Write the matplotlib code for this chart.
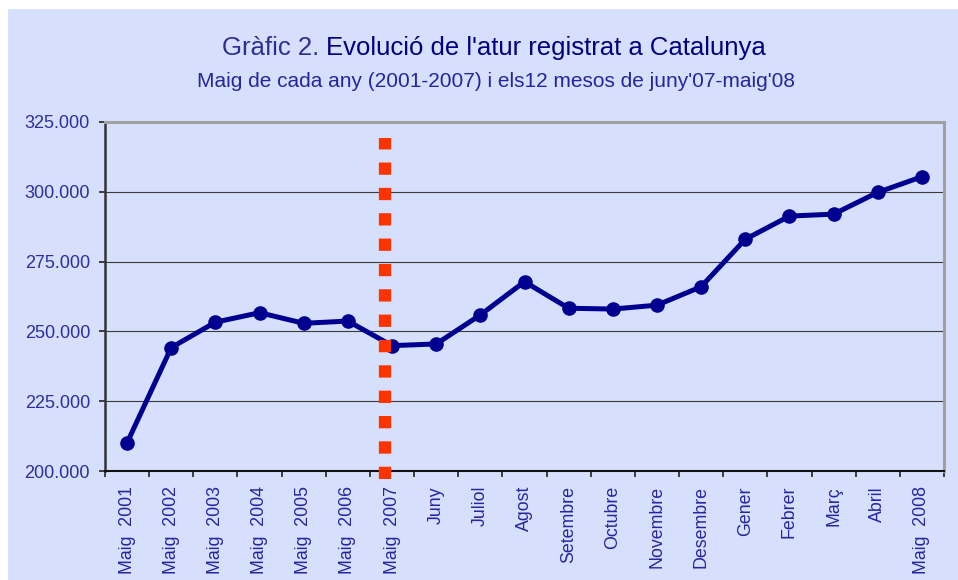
import matplotlib
matplotlib.use("Agg")
import matplotlib.pyplot as plt
from matplotlib.patches import Rectangle
from matplotlib.ticker import FuncFormatter, FixedLocator

categories = ["Maig  2001", "Maig  2002", "Maig  2003", "Maig  2004", "Maig  2005",
              "Maig  2006", "Maig  2007", "Juny", "Juliol", "Agost", "Setembre",
              "Octubre", "Novembre", "Desembre", "Gener", "Febrer", "Març", "Abril",
              "Maig  2008"]
values = [210100, 244200, 253300, 256700, 252900, 253700, 244900, 245500, 255900,
          267800, 258300, 258000, 259400, 266000, 283000, 291300, 292000, 299800, 305400]
yticks = [200000, 225000, 250000, 275000, 300000, 325000]
divider_x = 5.84
divider_y = [197100, 319300]

title_a = "Gràfic 2. "
title_b = "Evolució de l'atur registrat a Catalunya"
subtitle = "Maig de cada any (2001-2007) i els12 mesos de juny'07-maig'08"

plt.rcParams['font.family'] = ['Liberation Sans', 'DejaVu Sans']

W, H = 958, 580
bg = '#D6E0FC'
fig = plt.figure(figsize=(W / 100, H / 100), dpi=100, facecolor='white')
fig.patches.append(Rectangle((8 / W, 0), 1, 1 - 9 / H, transform=fig.transFigure,
                             facecolor=bg, edgecolor='none', zorder=-10))

ax = fig.add_axes([105 / W, 1 - 471 / H, (944 - 105) / W, (471 - 122) / H])
ax.set_facecolor(bg)

x = list(range(len(categories)))
ax.plot(x, values, color='#000090', lw=3.6, marker='o', markersize=10.5,
        markeredgewidth=0, zorder=4)
ax.plot([divider_x, divider_x], divider_y, color='#FF3300', lw=8.86,
        linestyle=(0, (1, 1.06)), dash_capstyle='butt', clip_on=False, zorder=5)

ax.set_xlim(-0.5, len(categories) - 0.5)
ax.set_ylim(yticks[0], yticks[-1])
ax.set_yticks(yticks)
ax.yaxis.set_major_formatter(FuncFormatter(lambda v, p: f"{int(v):,}".replace(",", ".")))
ax.grid(axis='y', color='#3a3a3a', lw=0.8)
ax.set_axisbelow(True)

ax.set_xticks(x)
ax.set_xticklabels(categories, rotation=90, ha='center', va='top')
ax.xaxis.set_minor_locator(FixedLocator([i - 0.5 for i in range(len(categories) + 1)]))
ax.tick_params(axis='x', which='major', length=0, pad=10.8, labelsize=12.8, labelcolor='#2525A0')
ax.tick_params(axis='x', which='minor', length=4.3, width=1.2, color='#222222', direction='out')
ax.tick_params(axis='y', length=4.3, width=1.2, color='#222222', pad=6.5, labelsize=13,
               labelcolor='#2E2E9E')

for s in ['top', 'right']:
    ax.spines[s].set_color('#A0A0A0')
    ax.spines[s].set_linewidth(2.2)
ax.spines['left'].set_color('#333333')
ax.spines['left'].set_linewidth(1.8)
ax.spines['bottom'].set_color('#111111')
ax.spines['bottom'].set_linewidth(1.5)

# Title in two colours
cx = 494 / W
ty = 1 - 55 / H
fig.canvas.draw()
r = fig.canvas.get_renderer()
ta = fig.text(0, ty, title_a, fontsize=18.5, color='#2E2E95', ha='left', va='baseline')
tb = fig.text(0, ty, title_b, fontsize=18.5, color='#000080', ha='left', va='baseline')
wa = ta.get_window_extent(r).width
wb = tb.get_window_extent(r).width
x0 = cx * W - (wa + wb) / 2
ta.set_x(x0 / W)
tb.set_x((x0 + wa) / W)
fig.text(496.5 / W, 1 - 87 / H, subtitle, fontsize=15, color='#2525A0', ha='center', va='baseline')

fig.savefig('out.png', dpi=100, facecolor=fig.get_facecolor())
